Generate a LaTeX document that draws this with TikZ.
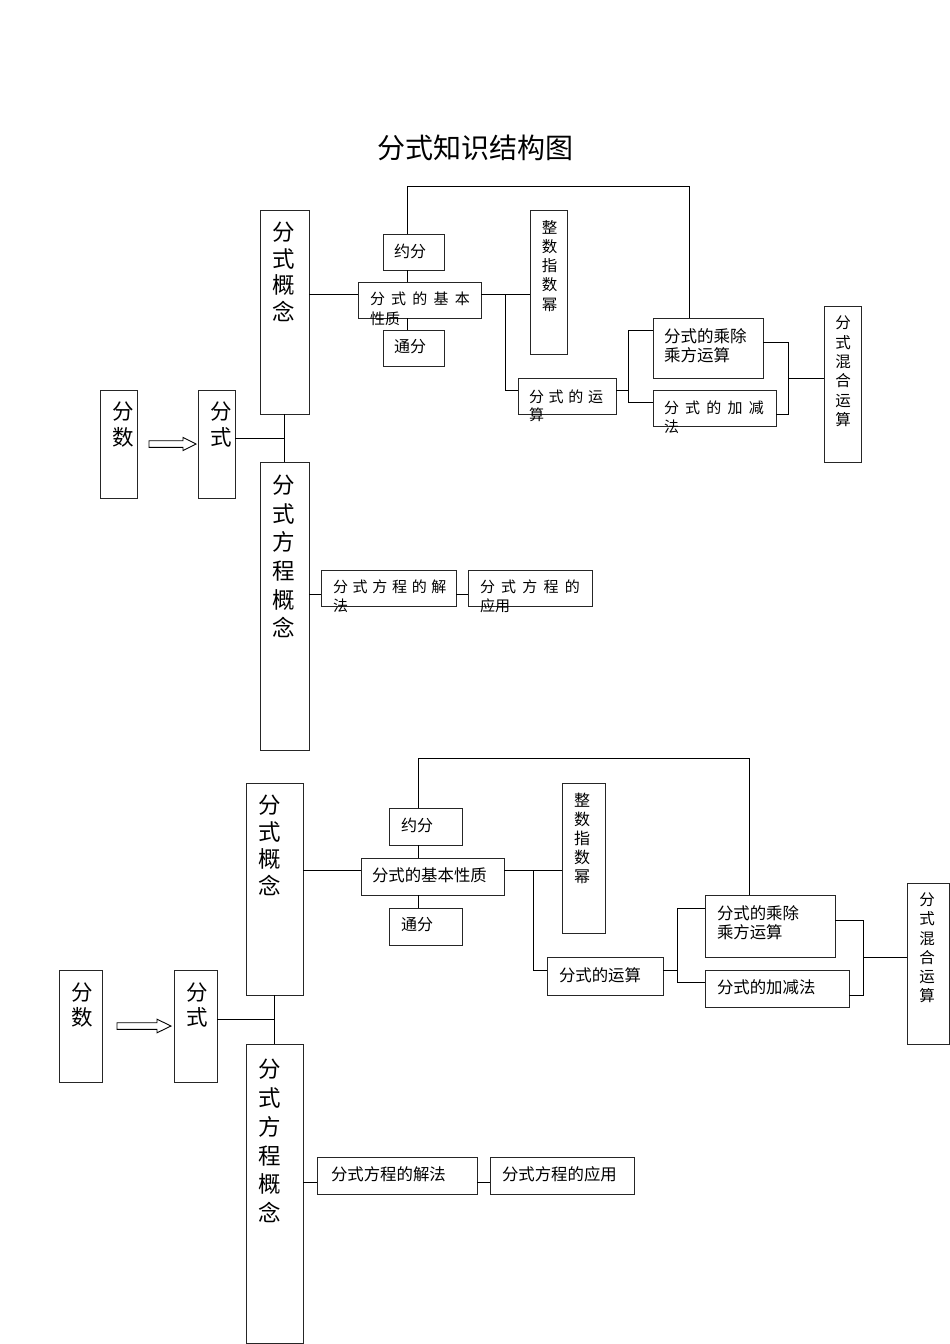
\documentclass[tikz,border=0pt]{standalone}
\usepackage{fontspec}
\setmainfont{Noto Sans CJK SC}
\usetikzlibrary{calc}
\newcommand\gpa{\hspace{6.2pt}}
\newcommand\gpb{\hspace{4.7pt}}
\newcommand\bx[5]{\node[boxst, minimum width={#4-#2}, minimum height={#5-#3}] (#1) at ({(#2+#4)/2},{(#3+#5)/2}) {};}
\begin{document}
\begin{tikzpicture}[x=1pt,y=-1pt,
  boxst/.style={draw=black!85, line width=0.95pt, inner sep=0, outer sep=0, rectangle},
  conn/.style={draw=black, line width=0.85pt},
  hollow/.style={draw=black, fill=white, line width=0.9pt, line join=miter},
  vt/.style={inner sep=0, outer sep=0, align=center, anchor=center},
  ht/.style={inner sep=0, outer sep=0, anchor=west}]
\fill[white] (0,0) rectangle (950,1344);
\useasboundingbox (0,0) rectangle (950,1344);

\node[inner sep=0, font=\fontsize{28}{34}\selectfont] (title) at (475,148) {分式知识结构图};

% ================= TOP DIAGRAM =================
\bx{A1}{100}{390}{137}{498}
\bx{A2}{198}{390}{235}{498}
\bx{A3}{260}{210}{309}{414}
\bx{A4}{260}{462}{309}{750}
\bx{A5}{358}{282}{481}{318}
\bx{A6}{383}{234}{444}{270}
\bx{A7}{383}{330}{444}{366}
\bx{A8}{530}{210}{567}{354}
\bx{A9}{518}{378}{616}{414}
\bx{A10}{653}{318}{763}{378}
\bx{A11}{653}{390}{776}{426}
\bx{A12}{824}{306}{861}{462}
\bx{A13}{321}{570}{456}{606}
\bx{A14}{468}{570}{592}{606}

% texts
\node[vt, font=\fontsize{21.5}{26}\selectfont] (a1t) at (123,425) {分\\数};
\node[vt, font=\fontsize{21.5}{26}\selectfont] (a2t) at (221,425) {分\\式};
\node[vt, font=\fontsize{22.5}{26.7}\selectfont] (a3t) at (283.5,272) {分\\式\\概\\念};
\node[vt, font=\fontsize{22.5}{28.6}\selectfont] (a4t) at (284,556.5) {分\\式\\方\\程\\概\\念};
\node[ht, font=\fontsize{16}{19}\selectfont] (a6t) at (394,251) {约分};
\node[ht, font=\fontsize{16}{19}\selectfont] (a7t) at (394,347) {通分};
\node[ht, font=\fontsize{15}{18}\selectfont] (a5t1) at (370,299) {分\gpa 式\gpa 的\gpa 基\gpa 本};
\node[ht, font=\fontsize{15}{18}\selectfont] (a5t2) at (370,319) {性质};
\node[vt, font=\fontsize{15.5}{19.1}\selectfont] (a8t) at (549.5,266) {整\\数\\指\\数\\幂};
\node[ht, font=\fontsize{15}{18}\selectfont] (a9t1) at (529,397) {分\gpb 式\gpb 的\gpb 运};
\node[ht, font=\fontsize{15}{18}\selectfont] (a9t2) at (529,415) {算};
\node[ht, font=\fontsize{16.5}{19}\selectfont] (a10t1) at (664,336) {分式的乘除};
\node[ht, font=\fontsize{16.5}{19}\selectfont] (a10t2) at (664,355) {乘方运算};
\node[ht, font=\fontsize{15}{18}\selectfont] (a11t1) at (664,408) {分\gpa 式\gpa 的\gpa 加\gpa 减};
\node[ht, font=\fontsize{15}{18}\selectfont] (a11t2) at (664,427) {法};
\node[vt, font=\fontsize{15.5}{19.4}\selectfont] (a12t) at (843,371.5) {分\\式\\混\\合\\运\\算};
\node[ht, font=\fontsize{15}{18}\selectfont] (a13t1) at (333,587) {分\gpb 式\gpb 方\gpb 程\gpb 的\gpb 解};
\node[ht, font=\fontsize{15}{18}\selectfont] (a13t2) at (333,606) {法};
\node[ht, font=\fontsize{15}{18}\selectfont] (a14t1) at (480,587) {分\gpa 式\gpa 方\gpa 程\gpa 的};
\node[ht, font=\fontsize{15}{18}\selectfont] (a14t2) at (480,606) {应用};

% connectors
\coordinate (tj1) at (284.5,438);
\draw[conn] (tj1 -| A2.east) -- (tj1);
\draw[conn] (A3.south) -- (A4.north);
\coordinate (tj2) at (0,294);
\draw[conn] (tj2 -| A3.east) -- (tj2 -| A5.west);
\coordinate (tj3) at (407,186);
\coordinate (tj4) at (689,186);
\draw[conn] (tj3 |- A6.north) -- (tj3) -- (tj4) -- (tj4 |- A10.north);
\draw[conn] (tj3 |- A6.south) -- (tj3 |- A5.north);
\draw[conn] (tj3 |- A5.south) -- (tj3 |- A7.north);
\draw[conn] (tj2 -| A5.east) -- (tj2 -| A8.west);
\coordinate (tj5) at (505.7,390);
\draw[conn] (tj2 -| tj5) -- (tj5) -- (tj5 -| A9.west);
\coordinate (tj6) at (628,390);
\draw[conn] (tj6 -| A9.east) -- (tj6);
\coordinate (tj7) at (628,330);
\coordinate (tj8) at (628,402);
\draw[conn] (tj7 -| A10.west) -- (tj7) -- (tj8) -- (tj8 -| A11.west);
\coordinate (tj9) at (788,342);
\coordinate (tj10) at (788,414);
\coordinate (tj11) at (788,378);
\draw[conn] (tj9 -| A10.east) -- (tj9) -- (tj10) -- (tj10 -| A11.east);
\draw[conn] (tj11) -- (tj11 -| A12.west);
\coordinate (tj12) at (0,594);
\draw[conn] (tj12 -| A4.east) -- (tj12 -| A13.west);
\draw[conn] (tj12 -| A13.east) -- (tj12 -| A14.west);
% hollow arrow
\coordinate (ar1s) at ($(A1.east)+(12,0)$);
\coordinate (ar1t) at ($(A2.west)+(-2,0)$);
\draw[hollow] ($(ar1s)+(0,-3.3)$) -- ($(ar1t)+(-13,-3.3)$) -- ($(ar1t)+(-13,-6.6)$) -- (ar1t)
  -- ($(ar1t)+(-13,6.6)$) -- ($(ar1t)+(-13,3.3)$) -- ($(ar1s)+(0,3.3)$) -- cycle;

% ================= BOTTOM DIAGRAM =================
\bx{B1}{59}{970}{102}{1082}
\bx{B2}{174}{970}{217}{1082}
\bx{B3}{246}{783}{303}{995}
\bx{B4}{246}{1044}{303}{1343}
\bx{B5}{361}{858}{504}{895}
\bx{B6}{389}{808}{462}{845}
\bx{B7}{389}{908}{462}{945}
\bx{B8}{562}{783}{605}{933}
\bx{B9}{547}{957}{663}{995}
\bx{B10}{705}{895}{835}{957}
\bx{B11}{705}{970}{849}{1007}
\bx{B12}{907}{883}{949}{1044}
\bx{B13}{317}{1157}{477}{1194}
\bx{B14}{490}{1157}{634}{1194}

\node[vt, font=\fontsize{21.5}{25}\selectfont] (b1t) at (82.5,1005.5) {分\\数};
\node[vt, font=\fontsize{21.5}{25}\selectfont] (b2t) at (197.5,1005.5) {分\\式};
\node[vt, font=\fontsize{22.5}{27}\selectfont] (b3t) at (269.5,845.5) {分\\式\\概\\念};
\node[vt, font=\fontsize{22.5}{28.8}\selectfont] (b4t) at (270,1141) {分\\式\\方\\程\\概\\念};
\node[ht, font=\fontsize{16}{19}\selectfont] (b6t) at (401,825) {约分};
\node[ht, font=\fontsize{16}{19}\selectfont] (b7t) at (401,925) {通分};
\node[ht, font=\fontsize{16.4}{19}\selectfont] (b5t) at (372,875) {分式的基本性质};
\node[vt, font=\fontsize{16}{19}\selectfont] (b8t) at (582,838) {整\\数\\指\\数\\幂};
\node[ht, font=\fontsize{16.4}{19}\selectfont] (b9t) at (559,975) {分式的运算};
\node[ht, font=\fontsize{16.4}{19}\selectfont] (b10t1) at (717,913) {分式的乘除};
\node[ht, font=\fontsize{16.4}{19}\selectfont] (b10t2) at (717,932) {乘方运算};
\node[ht, font=\fontsize{16.4}{19}\selectfont] (b11t) at (717,987) {分式的加减法};
\node[vt, font=\fontsize{15.5}{19.2}\selectfont] (b12t) at (927,948) {分\\式\\混\\合\\运\\算};
\node[ht, font=\fontsize{16.4}{19}\selectfont] (b13t) at (331,1174) {分式方程的解法};
\node[ht, font=\fontsize{16.4}{19}\selectfont] (b14t) at (502,1174) {分式方程的应用};

\coordinate (bj1) at (274.5,1019);
\draw[conn] (bj1 -| B2.east) -- (bj1);
\draw[conn] (B3.south) -- (B4.north);
\coordinate (bj2) at (0,870);
\draw[conn] (bj2 -| B3.east) -- (bj2 -| B5.west);
\coordinate (bj3) at (418,758);
\coordinate (bj4) at (749,758);
\draw[conn] (bj3 |- B6.north) -- (bj3) -- (bj4) -- (bj4 |- B10.north);
\draw[conn] (bj3 |- B6.south) -- (bj3 |- B5.north);
\draw[conn] (bj3 |- B5.south) -- (bj3 |- B7.north);
\draw[conn] (bj2 -| B5.east) -- (bj2 -| B8.west);
\coordinate (bj5) at (533,970);
\draw[conn] (bj2 -| bj5) -- (bj5) -- (bj5 -| B9.west);
\coordinate (bj6) at (677,970);
\draw[conn] (bj6 -| B9.east) -- (bj6);
\coordinate (bj7) at (677,908);
\coordinate (bj8) at (677,982);
\draw[conn] (bj7 -| B10.west) -- (bj7) -- (bj8) -- (bj8 -| B11.west);
\coordinate (bj9) at (863,920);
\coordinate (bj10) at (863,995);
\coordinate (bj11) at (863,957);
\draw[conn] (bj9 -| B10.east) -- (bj9) -- (bj10) -- (bj10 -| B11.east);
\draw[conn] (bj11) -- (bj11 -| B12.west);
\coordinate (bj12) at (0,1182);
\draw[conn] (bj12 -| B4.east) -- (bj12 -| B13.west);
\draw[conn] (bj12 -| B13.east) -- (bj12 -| B14.west);
\coordinate (ar2s) at ($(B1.east)+(15,0)$);
\coordinate (ar2t) at ($(B2.west)+(-3,0)$);
\draw[hollow] ($(ar2s)+(0,-3.3)$) -- ($(ar2t)+(-14,-3.3)$) -- ($(ar2t)+(-14,-6.8)$) -- (ar2t)
  -- ($(ar2t)+(-14,6.8)$) -- ($(ar2t)+(-14,3.3)$) -- ($(ar2s)+(0,3.3)$) -- cycle;
\end{tikzpicture}
\end{document}
